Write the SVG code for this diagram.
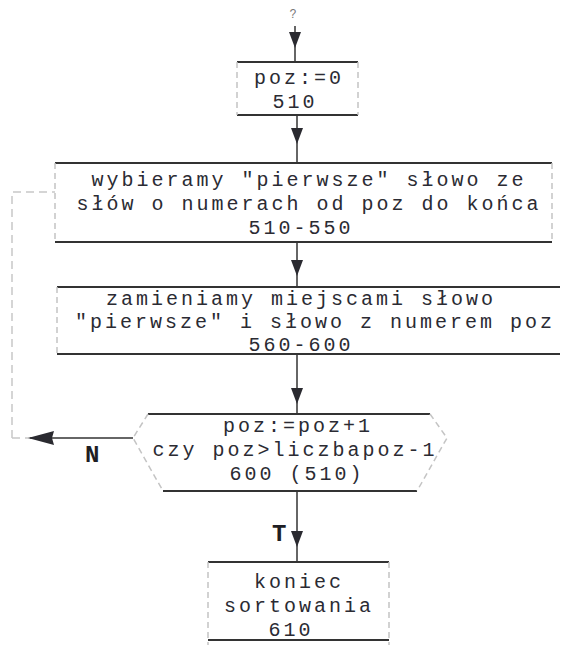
<svg xmlns="http://www.w3.org/2000/svg" xmlns:xlink="http://www.w3.org/1999/xlink" width="564" height="645" viewBox="0 0 564 645">
<style>
  .t { font-family: "Liberation Mono", "DejaVu Sans Mono", monospace; font-size: 20px; fill: #2b2b33; letter-spacing: 3px; text-anchor: middle; }
  .lbl { font-family: "Liberation Mono", "DejaVu Sans Mono", monospace; font-size: 24px; font-weight: bold; fill: #1e1e24; }
  .edge { stroke: #333; stroke-width: 2; fill: none; }
  .side { stroke: #c4c4c4; stroke-width: 1.5; fill: none; stroke-dasharray: 6 4; }
  .conn { stroke: #333; stroke-width: 1.5; fill: none; }
  .faint { stroke: #c8c8c8; stroke-width: 1.5; fill: none; stroke-dasharray: 8 5; }
  .head { fill: #2a2a30; }
</style>
<defs>
  <path id="hd" d="M-6,-14 L6,-14 L1.5,-2 L0,2 L-1.5,-2 Z"/>
  <path id="hl" d="M0,0 L26,-7 L24,0 L26,7 Z"/>
</defs>
<g id="connectors">
  <text x="293" y="18" style="font-family:'Liberation Mono',monospace;font-size:12px;fill:#777;text-anchor:middle">?</text>
  <line class="conn" x1="295" y1="26" x2="295" y2="62"/>
  <use href="#hd" class="head" x="295" y="46"/>
  <line class="conn" x1="297" y1="115" x2="297" y2="163"/>
  <use href="#hd" class="head" x="297" y="142"/>
  <line class="conn" x1="297" y1="242" x2="297" y2="287"/>
  <use href="#hd" class="head" x="297" y="274"/>
  <line class="conn" x1="297" y1="354" x2="297" y2="414"/>
  <use href="#hd" class="head" x="297" y="402"/>
  <line class="conn" x1="297" y1="491" x2="297" y2="562"/>
  <use href="#hd" class="head" x="297" y="545"/>
  <text class="lbl" x="272" y="541">T</text>
  <line class="conn" x1="30" y1="438" x2="133" y2="438"/>
  <line class="faint" x1="12" y1="438" x2="30" y2="438"/>
  <use href="#hl" class="head" x="28" y="438"/>
  <text class="lbl" x="85" y="462">N</text>
  <polyline class="faint" points="12,438 12,192 55,192"/>
</g>
<g id="n510">
  <line class="edge" x1="237" y1="62" x2="358" y2="62"/>
  <line class="edge" x1="237" y1="115" x2="358" y2="115"/>
  <line class="side" x1="237" y1="62" x2="237" y2="115"/>
  <line class="side" x1="358" y1="62" x2="358" y2="115"/>
  <text class="t" x="299" y="84">poz:=0</text>
  <text class="t" x="295" y="108">510</text>
</g>
<g id="n510_550">
  <line class="edge" x1="55" y1="163" x2="552" y2="163"/>
  <line class="edge" x1="55" y1="242" x2="552" y2="242"/>
  <line class="side" x1="55" y1="163" x2="55" y2="242"/>
  <line class="side" x1="552" y1="163" x2="552" y2="242"/>
  <text class="t" x="309" y="186">wybieramy "pierwsze" słowo ze</text>
  <text class="t" x="309" y="210">słów o numerach od poz do końca</text>
  <text class="t" x="301" y="234">510-550</text>
</g>
<g id="n560_600">
  <line class="edge" x1="57" y1="287" x2="560" y2="287"/>
  <line class="edge" x1="57" y1="354" x2="560" y2="354"/>
  <line class="side" x1="57" y1="287" x2="57" y2="354"/>
  <text class="t" x="301" y="305">zamieniamy miejscami słowo</text>
  <text class="t" x="315" y="328">"pierwsze" i słowo z numerem poz</text>
  <text class="t" x="301" y="351">560-600</text>
</g>
<g id="n600">
  <line class="edge" x1="148" y1="414" x2="430" y2="414"/>
  <line class="edge" x1="163" y1="491" x2="417" y2="491"/>
  <polyline class="side" points="148,414 133,438 163,491"/>
  <polyline class="side" points="430,414 447,438 417,491"/>
  <text class="t" x="298" y="432">poz:=poz+1</text>
  <text class="t" x="295" y="456">czy poz&gt;liczbapoz-1</text>
  <text class="t" x="297" y="480">600 (510)</text>
</g>
<g id="n610">
  <line class="edge" x1="208" y1="562" x2="389" y2="562"/>
  <line class="edge" x1="208" y1="640" x2="389" y2="640"/>
  <line class="side" x1="208" y1="562" x2="208" y2="645"/>
  <line class="side" x1="389" y1="562" x2="389" y2="645"/>
  <text class="t" x="299" y="588">koniec</text>
  <text class="t" x="299" y="612">sortowania</text>
  <text class="t" x="291" y="636">610</text>
</g>
</svg>
